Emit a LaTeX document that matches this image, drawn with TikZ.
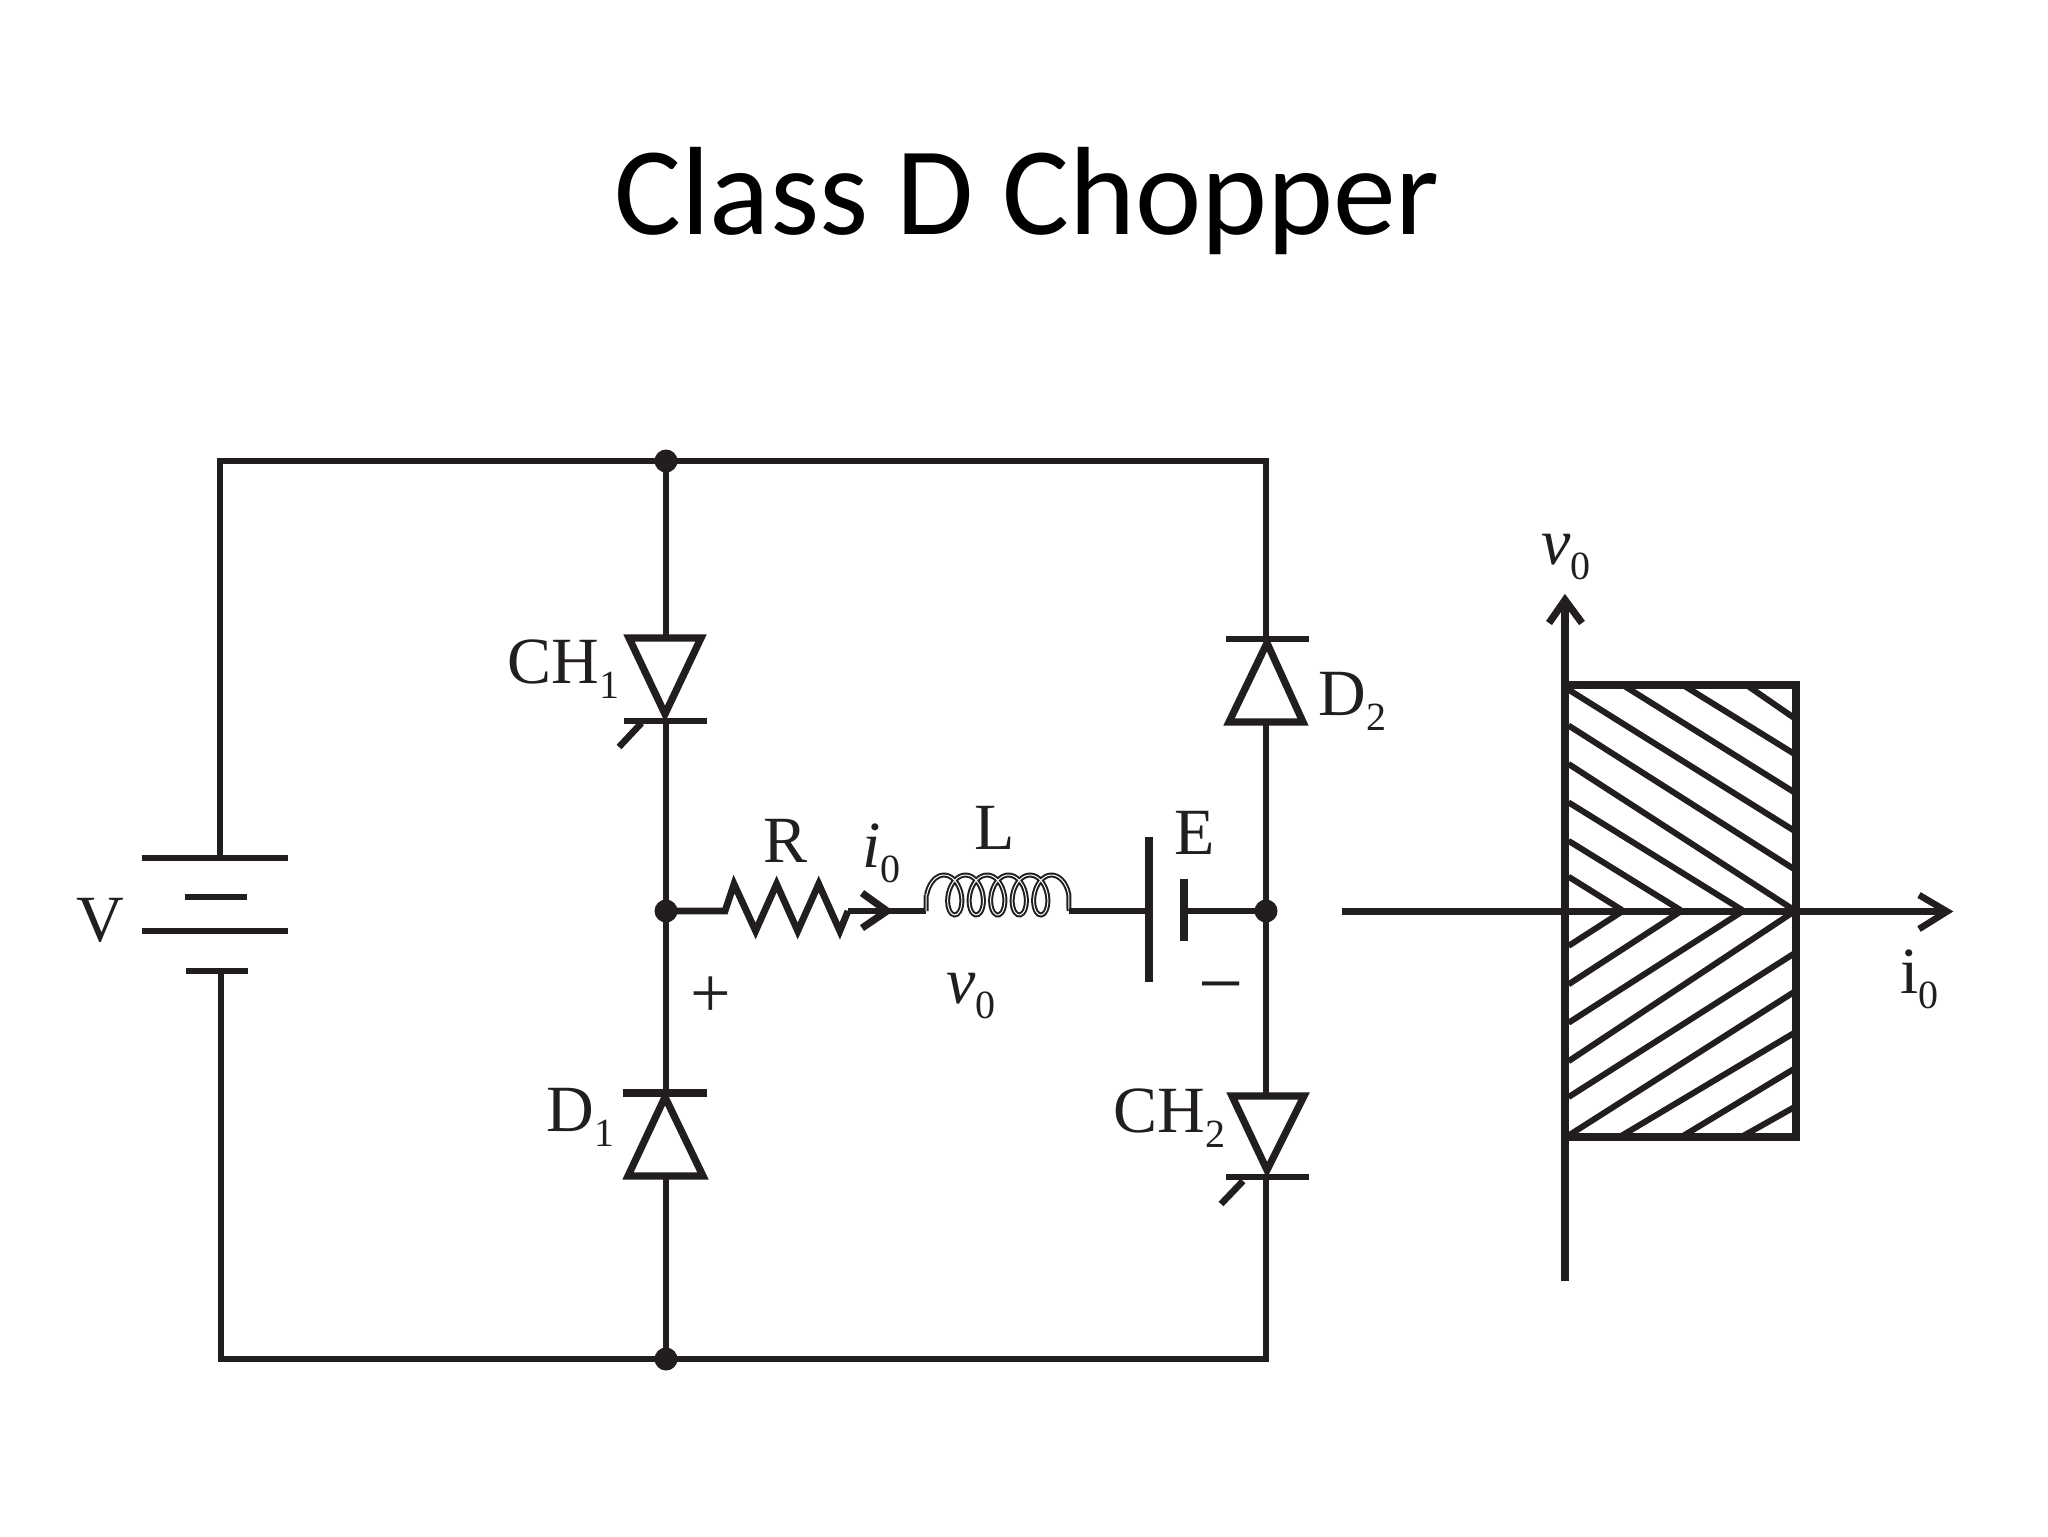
\documentclass[tikz,border=0pt]{standalone}
\usepackage{fontspec}
\setmainfont{Liberation Serif}
\newfontfamily\titlefont{Carlito}
\definecolor{ink}{HTML}{221E1F}
\newcommand{\subd}[1]{\raisebox{-7.5pt}{\fontsize{20}{20}\selectfont #1}}
\tikzset{
  wire/.style={draw=ink,line width=3.3pt,line join=miter},
  plate/.style={draw=ink,line width=3.3pt},
  heavy/.style={draw=ink,line width=3.7pt,line join=miter},
  junction/.style={circle,fill=ink,draw=none,minimum size=11.5pt,inner sep=0pt},
  lab/.style={text=ink,font=\fontsize{33}{33}\selectfont,inner sep=0pt,anchor=base west},
  labc/.style={lab,anchor=base},
  hatchline/.style={draw=ink,line width=3pt}
}
\begin{document}
\begin{tikzpicture}[x=0.5pt,y=-0.5pt]
\useasboundingbox[fill=white] (0,0) rectangle (2048,1536);
% corners
\coordinate (tl) at (220,461); \coordinate (tr) at (1266,461);
\coordinate (bl) at (221,1359); \coordinate (br) at (1266,1359);
% junctions
\node[junction] (jt) at (666,461) {};
\node[junction] (jb) at (666,1359) {};
\node[junction] (jm) at (666,911) {};
\node[junction] (je) at (1266,911) {};
% title
\node[text=black,font=\titlefont\fontsize{62.8}{62.8}\selectfont,inner sep=0pt,anchor=base] (title) at (1027,234) {Class D Chopper};
% battery
\coordinate (b1a) at (142,858); \coordinate (b1b) at (288,858); \coordinate (b1c) at (220,858);
\coordinate (b2a) at (185,897); \coordinate (b2b) at (247,897);
\coordinate (b3a) at (142,931); \coordinate (b3b) at (288,931);
\coordinate (b4a) at (186,971); \coordinate (b4b) at (248,971); \coordinate (b4c) at (221,971);
\draw[plate] (b1a) -- (b1b); \draw[plate] (b2a) -- (b2b);
\draw[plate] (b3a) -- (b3b); \draw[plate] (b4a) -- (b4b);
\node[labc] (vlab) at (100,941) {V};
% outer wires
\draw[wire] (b1c) -- (tl) -- (jt.center) -- (tr) -- (1266,639);
\draw[wire] (b4c) -- (bl) -- (jb.center) -- (br) -- (1266,1177);
% CH1
\coordinate (c1t) at (666,638); \coordinate (c1m) at (666,721);
\coordinate (c1l) at (629,638); \coordinate (c1r) at (701,638); \coordinate (c1k) at (665,714);
\draw[wire] (jt.center) -- (c1t);
\draw[wire,line width=3.6pt] (c1l) -- (c1r) -- (c1k) -- cycle;
\draw[plate] (624,721) -- (707,721);
\draw[wire] (c1m) -- (jm.center);
\draw[wire] (641.5,723) -- (619,747);
\node[lab] (ch1) at (507,683) {CH\subd{1}};
% D1
\coordinate (d1t) at (666,1093); \coordinate (d1b) at (666,1177);
\draw[wire] (jm.center) -- (d1t);
\draw[plate,line width=3.7pt] (623,1093) -- (707,1093);
\draw[wire,line width=3.6pt] (665,1097) -- (703,1176) -- (628,1176) -- cycle;
\draw[wire] (d1b) -- (jb.center);
\node[lab] (d1lab) at (546,1131) {D\subd{1}};
% D2
\coordinate (d2t) at (1266,639); \coordinate (d2b) at (1266,722);
\draw[plate] (1226,639) -- (1309,639);
\draw[wire,line width=3.6pt] (1267,643) -- (1303,722) -- (1229,722) -- cycle;
\draw[wire] (d2b) -- (je.center);
\node[lab] (d2lab) at (1318,715) {D\subd{2}};
% CH2
\coordinate (c2t) at (1266,1095);
\draw[wire] (je.center) -- (c2t);
\draw[wire,line width=3.6pt] (1232,1096) -- (1304,1096) -- (1267,1170) -- cycle;
\draw[plate] (1226,1177) -- (1309,1177);
\draw[wire] (1243,1181) -- (1221,1204);
\node[lab] (ch2) at (1113,1132) {CH\subd{2}};
% R
\coordinate (rs) at (725,911); \coordinate (re) at (848,911);
\draw[wire,line width=3.4pt] (jm.center) -- (rs) -- (734,884) -- (755.6,931) -- (776.6,884) -- (797.7,931) -- (818.7,884) -- (839.8,931) -- (re);
\node[labc] (rlab) at (785,862) {R};
% i0 arrow + wire to inductor
\coordinate (ls) at (926,911);
\draw[wire] (re) -- (ls);
\draw[wire,line width=3.6pt] (862,893) -- (887,911) -- (862,928);
\node[lab,font=\fontsize{33}{33}\selectfont\itshape] (ilab) at (862,867) {i\subd{\upshape 0}};
% L coil
\coordinate (le) at (1069,911);
\draw[draw=ink,line width=1pt,double=white,double distance=.5pt]
  (ls) -- (926,895)
  plot[smooth,domain=-90:1890,samples=110] ({944+\x/360*21.5+12*sin(\x)},{895-20*cos(\x)})
  -- (le);
\node[labc] (llab) at (995,849) {L};
\node[lab,font=\fontsize{33}{33}\selectfont\itshape] (vlab2) at (946,1003) {v\subd{\upshape 0}};
% E
\coordinate (cp1) at (1149,911); \coordinate (cp2) at (1184,911);
\draw[wire] (le) -- (cp1);
\draw[heavy] (1149,837) -- (1149,982);
\draw[heavy] (1184,879) -- (1184,941);
\draw[wire] (cp2) -- (je.center);
\node[labc] (elab) at (1195,854) {E};
\node[text=ink,font=\fontsize{36}{36}\selectfont,inner sep=0pt] (plus) at (711,997) {+};
\node[text=ink,font=\fontsize{40}{40}\selectfont,inner sep=0pt] (minus) at (1221,996) {−};
% graph
\coordinate (ax0) at (1342,911.5); \coordinate (axt) at (1947,911.5);
\coordinate (ay0) at (1565,1281); \coordinate (ayt) at (1565,600);
\draw[draw=ink,line width=3.6pt,fill=white] (1565,685) rectangle (1796,1137);
\draw[draw=ink,line width=3.3pt] (ax0) -- (axt);
\draw[draw=ink,line width=3.3pt] (1919,895) -- (axt) -- (1919,929);
\draw[draw=ink,line width=3.7pt] (ay0) -- (ayt);
\draw[draw=ink,line width=3.6pt] (1549,623) -- (ayt) -- (1582,623);
\begin{scope}[shift={(1480,500)},x=0.167pt,y=-0.25625pt]
\foreach \a/\b/\c/\d in {
  800/362/940/425,610/362/940/495,430/362/940/570,265/370/940/645,265/440/940/720,265/515/940/800,
  265/590/785/800,265/665/600/800,265/735/425/800,
  265/870/425/803,265/945/600/803,265/1020/785/803,265/1095/940/803,265/1165/940/885,265/1240/940/960,
  425/1240/940/1040,610/1240/940/1110,790/1240/940/1185}
  \draw[hatchline] (\a,\b) -- (\c,\d);
\end{scope}
\node[lab,font=\fontsize{33}{33}\selectfont\itshape] (gv) at (1541,564) {v\subd{\upshape 0}};
\node[lab] (gi) at (1900,993) {i\subd{0}};
\end{tikzpicture}
\end{document}
